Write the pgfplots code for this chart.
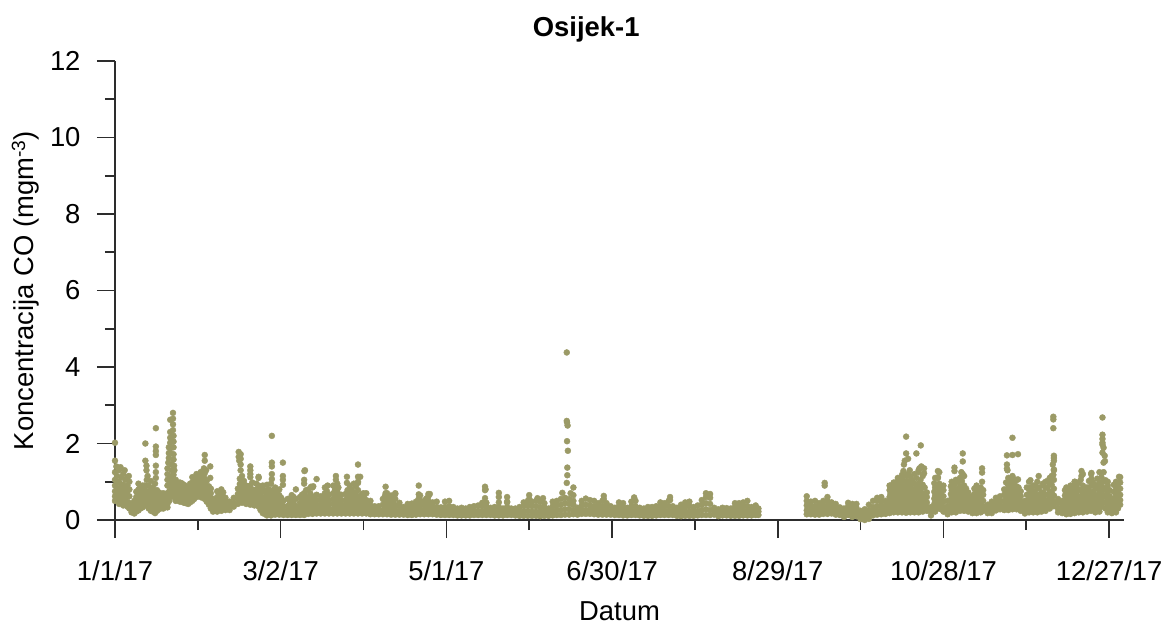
\documentclass[border=0pt]{standalone}
\usepackage{pgfplots}
\usepackage{pgfplotstable}
\usepackage{fontspec}
\setmainfont{Liberation Sans}
\pgfplotsset{compat=1.18}
\definecolor{pt}{RGB}{155,154,102}
\definecolor{ax}{RGB}{45,45,45}
\pgfplotstableread{
d v1 v2 v3 v4 v5 v6
0 .5 .62 .75 .9 1.05 1.25
1.5 .42 .55 .68 .82 1 1.3
3 .38 .5 .62 .78 .92 1.2
4.5 .35 .46 .6 .74 .9 1.12
6 .2 .3 .4 nan nan nan
7 .17 .28 .4 .5 nan nan
8.5 .25 .38 .52 .66 .8 .95
10 .33 .45 .58 .7 .82 .9
11.5 .38 .5 .62 .75 .9 1.05
13 .24 .36 .5 .64 .8 1.02
14.5 .18 .3 .45 .6 .75 .95
16 .28 .38 .5 .62 .72 nan
17.5 .3 .4 .52 .64 .7 nan
19 .33 .42 .53 .62 .7 nan
20.5 .7 .85 1 1.15 1.3 1.45
22 .5 .62 .75 .88 1 1.05
23.5 .48 .6 .72 .85 .98 nan
25 .45 .55 .68 .8 .92 nan
26.5 .42 .52 .62 .72 .85 nan
28 .5 .62 .74 .86 .98 1.12
29.5 .6 .72 .84 .96 1.08 1.2
31 .6 .72 .84 .96 1.1 1.25
32.5 .55 .68 .8 .95 1.08 1.22
34 .4 .5 .62 .75 .88 nan
35.5 .22 .32 .44 .55 nan nan
37 .22 .32 .45 .6 .75 nan
38.5 .24 .36 .5 .65 .8 nan
40 .26 .36 .48 .58 nan nan
41.5 .26 .36 .48 nan nan nan
43 .35 .45 .58 nan nan nan
44.5 .42 .55 .68 .82 nan nan
46 .45 .58 .72 .88 1.02 1.15
47.5 .42 .55 .68 .8 .9 nan
49 .4 .5 .62 .75 .9 1.12
50.5 .38 .48 .6 .7 nan nan
52 .35 .45 .58 .72 .9 1.1
53.5 .18 .32 .46 .6 .75 .9
55 .12 .24 .38 .52 .68 .92
56.5 .12 .24 .38 .52 .7 .95
58 .14 .26 .4 .55 .7 .85
59.5 .14 .26 .38 .5 .65 .8
61 .13 .24 .36 .5 nan nan
62.5 .13 .24 .36 .55 nan nan
64 .13 .24 .36 .5 .65 nan
65.5 .13 .24 .36 .55 .8 nan
67 .13 .22 .34 .45 .6 nan
68.5 .13 .24 .38 .52 .7 .95
70 .16 .26 .36 .45 .6 .8
71.5 .16 .26 .38 .5 .62 .85
73 .17 .28 .4 .52 .66 nan
74.5 .17 .28 .4 .52 .62 nan
76 .17 .28 .4 .55 .7 .85
77.5 .17 .28 .4 .52 .66 nan
79 .17 .28 .42 .55 .7 .9
80.5 .17 .3 .42 .56 .75 .95
82 .17 .28 .4 .52 .66 nan
83.5 .17 .28 .4 .52 .68 nan
85 .17 .28 .4 .55 .7 .9
86.5 .17 .28 .42 .56 .72 .95
88 .17 .3 .44 .6 .78 1
89.5 .17 .28 .4 .55 .68 nan
91 .17 .28 .4 .52 .7 nan
92.5 .15 .26 .38 .5 nan nan
94 .15 .25 .36 nan nan nan
95.5 .15 .25 .36 nan nan nan
97 .15 .25 .4 .55 nan nan
98.5 .15 .25 .4 .55 .7 nan
100 .14 .25 .38 .52 .64 nan
101.5 .14 .25 .38 .55 .68 nan
103 .14 .24 .36 .45 nan nan
104.5 .14 .24 .34 nan nan nan
106 .13 .22 .32 .42 nan nan
107.5 .13 .22 .34 .43 nan nan
109 .14 .24 .36 .48 nan nan
110.5 .15 .26 .38 .5 .64 nan
112 .15 .26 .38 .5 nan nan
113.5 .15 .26 .38 .5 .62 nan
115 .15 .25 .36 .46 nan nan
116.5 .14 .24 .34 .48 nan nan
118 .13 .23 .33 nan nan nan
119.5 .13 .23 .34 .48 nan nan
121 .13 .24 .36 .5 nan nan
122.5 .13 .23 .34 nan nan nan
124 .12 .22 .3 nan nan nan
125.5 .12 .22 .32 nan nan nan
127 .12 .21 .3 nan nan nan
128.5 .12 .22 .34 nan nan nan
130 .13 .24 .36 nan nan nan
131.5 .13 .24 .38 nan nan nan
133 .13 .23 .36 .45 nan nan
134.5 .13 .24 .35 .45 nan nan
136 .13 .22 .32 nan nan nan
137.5 .12 .22 .34 nan nan nan
139 .12 .22 .34 .46 nan nan
140.5 .12 .21 .3 nan nan nan
142 .13 .23 .34 .46 nan nan
143.5 .13 .22 .3 nan nan nan
145 .12 .2 .3 nan nan nan
146.5 .11 .22 .34 nan nan nan
148 .11 .22 .36 .46 nan nan
149.5 .11 .24 .38 .5 nan nan
151 .11 .22 .36 .48 nan nan
152.5 .11 .22 .36 .5 nan nan
154 .1 .22 .34 .48 nan nan
155.5 .11 .22 .34 .44 nan nan
157 .11 .22 .3 nan nan nan
158.5 .12 .24 .36 .48 nan nan
160 .13 .25 .38 .5 nan nan
161.5 .13 .26 .4 .55 nan nan
163 .14 .28 .44 .58 nan nan
164.5 .14 .28 .42 .55 nan nan
166 .15 .26 .4 .5 nan nan
167.5 .14 .24 .32 nan nan nan
169 .16 .26 .38 .5 nan nan
170.5 .16 .26 .4 .56 nan nan
172 .16 .26 .38 .52 nan nan
173.5 .15 .25 .36 .5 nan nan
175 .14 .24 .34 .44 nan nan
176.5 .14 .24 .36 .5 nan nan
178 .14 .24 .34 .44 nan nan
179.5 .14 .24 .36 nan nan nan
181 .13 .22 .32 nan nan nan
182.5 .13 .24 .36 .46 nan nan
184 .12 .24 .34 .44 nan nan
185.5 .12 .22 .32 nan nan nan
187 .13 .24 .36 .48 nan nan
188.5 .13 .24 .36 .5 nan nan
190 .12 .22 .32 nan nan nan
191.5 .11 .2 .3 nan nan nan
193 .11 .22 .34 nan nan nan
194.5 .11 .22 .34 nan nan nan
196 .12 .24 .36 nan nan nan
197.5 .13 .24 .36 .46 nan nan
199 .13 .24 .36 .44 nan nan
200.5 .13 .24 .36 .5 nan nan
202 .13 .24 .36 nan nan nan
203.5 .11 .22 .32 nan nan nan
205 .1 .22 .32 .4 nan nan
206.5 .11 .22 .34 .46 nan nan
208 .11 .22 .36 .48 nan nan
209.5 .11 .22 .34 nan nan nan
211 .12 .24 .38 nan nan nan
212.5 .13 .26 .4 .52 nan nan
214 .13 .28 .44 .6 nan nan
215.5 .13 .26 .42 .58 nan nan
217 .14 .24 .32 nan nan nan
218.5 .1 .2 .28 nan nan nan
220 .12 .22 .32 nan nan nan
221.5 .12 .22 .31 nan nan nan
223 .11 .2 .3 nan nan nan
224.5 .11 .22 .34 .44 nan nan
226 .11 .22 .34 .44 nan nan
227.5 .12 .24 .36 .46 nan nan
229 .12 .24 .36 .5 nan nan
230.5 .12 .22 .34 nan nan nan
232 .13 .22 .3 .38 nan nan
233 .13 .22 .3 nan nan nan
250.5 .15 .25 .38 .5 .62 nan
252 .15 .25 .36 .48 nan nan
253.5 .14 .25 .36 .5 nan nan
255 .14 .24 .34 .44 nan nan
256.5 .16 .26 .38 .5 nan nan
258 .16 .26 .38 .5 .6 nan
259.5 .17 .27 .38 .46 nan nan
261 .14 .24 .34 .42 nan nan
262.5 .13 .23 .33 nan nan nan
264 .08 .18 .3 nan nan nan
265.5 .13 .24 .36 .45 nan nan
267 .08 .18 .3 .42 nan nan
268.5 .1 .2 .32 .42 nan nan
270 .02 .12 .24 nan nan nan
271.5 0 .1 .2 .28 nan nan
273 .03 .14 .26 .4 nan nan
274.5 .12 .22 .34 .5 nan nan
276 .14 .24 .36 .5 .58 nan
277.5 .15 .25 .36 .48 .6 nan
279 .16 .26 .38 .5 nan nan
280.5 .18 .3 .44 .6 .78 .9
282 .2 .32 .46 .6 .78 .98
283.5 .2 .34 .5 .68 .88 1.1
285 .2 .34 .5 .68 .9 1.12
286.5 .19 .34 .5 .68 .9 1.15
288 .2 .36 .52 .7 .92 1.15
289.5 .2 .36 .52 .72 .95 1.2
291 .2 .36 .52 .72 .95 1.3
292.5 .22 .36 .52 .7 .92 1.15
294 .24 .34 .46 .6 .72 nan
295.5 .12 .22 .34 nan nan nan
297 .22 .34 .48 .64 .85 1.1
298.5 .3 .42 .56 .72 .95 1.25
300 .22 .34 .48 .62 .78 .9
301.5 .15 .25 .36 .5 nan nan
303 .2 .32 .46 .6 .78 1
304.5 .2 .34 .48 .64 .8 1.05
306 .24 .36 .5 .68 .88 1.1
307.5 .24 .36 .52 .7 .9 1.15
309 .22 .34 .46 .6 .72 nan
310.5 .18 .28 .4 .54 .62 nan
312 .18 .3 .44 .6 .75 .9
313.5 .2 .32 .44 .58 .76 .85
316 .18 .28 .4 nan nan nan
317.5 .18 .28 .38 .48 nan nan
319 .25 .34 .46 .58 nan nan
320.5 .28 .38 .5 .62 nan nan
322 .26 .38 .5 .66 .8 nan
323.5 .26 .38 .52 .7 .9 1.1
325 .28 .4 .55 .72 .9 1.12
326.5 .28 .4 .55 .72 .88 1.05
328 .24 .36 .48 .62 .75 nan
329.5 .17 .28 .4 .5 nan nan
331 .2 .32 .46 .62 .8 1
332.5 .2 .32 .44 .6 .75 .9
334 .2 .32 .46 .62 .82 1
335.5 .22 .34 .46 .6 .72 nan
337 .24 .36 .5 .66 .85 1
338.5 .3 .42 .58 .74 .95 1.1
340 .36 .48 .64 .82 1.05 1.3
341.5 .2 .3 .44 .55 nan nan
343 .18 .28 .4 .5 nan nan
344.5 .15 .26 .4 .56 .72 .85
346 .16 .28 .42 .58 .74 .9
347.5 .18 .3 .44 .6 .78 1
349 .2 .32 .46 .62 .8 .98
350.5 .2 .34 .5 .68 .9 1.2
352 .22 .34 .46 .6 .72 .85
353.5 .24 .36 .5 .68 .9 1.2
355 .2 .34 .48 .66 .82 .9
356.5 .22 .36 .54 .74 .98 1.25
358 .44 .6 .78 1 1.25 1.5
359.5 .2 .36 .54 .72 .9 1.0
361 .18 .3 .42 .55 nan nan
362.5 .2 .34 .5 .66 .84 1
364 .4 .52 .66 .82 .98 1.12
}\base
\pgfplotstableread{
d w1 w2 w3 w4 w5
.7 .56 .68 .82 .97 1.15
2.2 .48 .6 .75 .92 1.12
3.7 .44 .56 .7 .85 1.05
5.2 .3 .45 .62 .8 1
7.7 .22 .34 .46 .6 .74
9.2 .3 .44 .58 .72 .86
10.7 .38 .52 .66 .78 .9
12.2 .3 .44 .58 .72 .9
13.7 .22 .36 .52 .68 .85
15.2 .24 .36 .5 .64 .78
16.7 .32 .44 .56 .66 nan
18.2 .34 .46 .58 .68 nan
19.7 .5 .62 .76 .92 1.08
21.2 .6 .74 .88 1.02 1.18
22.7 .52 .66 .8 .92 nan
24.2 .48 .6 .74 .86 .96
25.7 .44 .56 .68 .8 .88
27.2 .46 .58 .7 .82 .95
28.7 .55 .68 .8 .92 1.05
30.2 .64 .78 .9 1.02 1.14
31.7 .58 .72 .86 1 1.16
33.2 .48 .6 .74 .88 1.02
34.7 .3 .44 .58 .7 .82
36.2 .26 .38 .5 nan nan
37.7 .28 .4 .54 .68 nan
39.2 .3 .44 .58 .72 nan
45.2 .5 .64 .78 .94 1.08
46.7 .48 .62 .76 .9 1.02
48.2 .46 .58 .7 .84 nan
49.7 .44 .56 .68 .8 .98
51.2 .4 .52 .66 .8 .95
52.7 .26 .4 .54 .68 .85
54.2 .16 .3 .44 .58 .78
55.7 .18 .32 .46 .6 .8
57.2 .18 .32 .46 .62 .78
58.7 .2 .34 .46 .6 .72
60.2 .18 .3 .44 .58 nan
63.2 .18 .3 .42 .56 nan
64.7 .18 .3 .44 .6 nan
67.7 .17 .28 .42 .54 .66
69.2 .2 .32 .46 .6 .78
70.7 .2 .32 .42 .54 .7
72.2 .22 .34 .46 .58 nan
75.2 .22 .34 .46 .6 nan
76.7 .22 .34 .47 .62 .76
79.7 .22 .36 .48 .62 .8
80.9 .24 .36 .5 .65 .85
84.2 .22 .34 .47 .6 .78
85.7 .22 .34 .48 .62 .8
87.2 .24 .36 .5 .68 .88
88.7 .24 .36 .48 .62 nan
90.2 .22 .34 .46 .6 nan
97.7 .2 .32 .47 .62 nan
99.2 .2 .32 .45 .58 nan
100.7 .2 .32 .46 .6 nan
110 .2 .32 .44 .56 nan
112.7 .2 .32 .44 .56 nan
280.8 .24 .36 .52 .68 .84
281.7 .26 .4 .54 .68 .88
282.7 .26 .42 .58 .78 .98
284.2 .26 .42 .6 .78 1
285.7 .26 .42 .58 .78 1.02
287.2 .28 .44 .6 .8 1.02
288.7 .28 .44 .62 .82 1.05
290.2 .28 .44 .62 .84 1.1
291.7 .28 .44 .62 .82 1.05
293.2 .3 .4 .54 .66 .85
296.7 .28 .42 .56 .74 .96
298 .36 .5 .64 .84 1.1
299.2 .28 .42 .54 .7 .85
302.7 .26 .38 .52 .68 .88
304 .26 .4 .56 .72 .92
305.2 .3 .44 .6 .78 1
306.7 .3 .44 .6 .8 1.02
308.2 .28 .4 .54 .66 .82
309.7 .24 .34 .46 .58 nan
311.2 .24 .36 .52 .68 .82
312.7 .26 .38 .5 .68 .8
314.4 .24 .36 .5 .66 .78
322.7 .32 .44 .58 .78 .98
324.2 .32 .46 .62 .8 1
325.7 .34 .48 .64 .8 1
327.2 .3 .42 .56 .7 .85
330.2 .22 .36 .5 .66 .85
331.7 .26 .38 .54 .7 .85
333.2 .26 .38 .52 .7 .9
334.7 .26 .4 .54 .66 .85
336.2 .3 .42 .56 .72 .9
337.7 .36 .5 .66 .84 1.02
339.2 .42 .56 .72 .92 1.15
344 .2 .34 .48 .64 .78
345.2 .22 .34 .5 .66 .82
346.7 .24 .36 .52 .68 .88
348.2 .26 .38 .54 .72 .9
349.7 .26 .42 .58 .78 1.05
351.2 .28 .4 .54 .66 .8
352.7 .3 .42 .58 .78 1.02
354.2 .28 .42 .58 .74 .98
355.7 .28 .44 .62 .84 1.08
357.2 .34 .48 .66 .88 1.12
358.7 .3 .46 .64 .84 1.04
360.2 .24 .36 .48 .62 .78
361.7 .26 .4 .56 .74 .92
363.2 .3 .44 .6 .76 .92
}\extra
\begin{document}
\begin{tikzpicture}
\path[use as bounding box] (-115bp,-106bp) rectangle (1058bp,520bp);
\begin{axis}[
  at={(0,0)},anchor=south west,
  scale only axis,width=1009bp,height=459bp,
  xmin=0,xmax=365.4,ymin=0,ymax=12,
  axis x line*=bottom,axis y line*=left,
  axis line style={ax,line width=1.6bp,-},
  tick style={ax,line width=1.6bp},
  tick align=outside,
  major tick length=18bp,minor tick length=10bp,
  xtick={0,60,120,180,240,300,360},
  xticklabels={1/1/17,3/2/17,5/1/17,6/30/17,8/29/17,10/28/17,12/27/17},
  minor xtick={30,90,150,210,270,330},
  ytick={0,2,4,6,8,10,12},
  minor ytick={1,3,5,7,9,11},
  xticklabel style={font=\fontsize{27.5}{31}\selectfont,yshift=-19bp},
  yticklabel style={font=\fontsize{27.5}{31}\selectfont,xshift=-13bp},
  /pgf/number format/assume math mode=true,
  title={\bfseries Osijek-1},
  title style={at={(0.467,1)},anchor=base,yshift=19bp,font=\fontsize{27.5}{31}\selectfont},
  xlabel={Datum},
  xlabel style={at={(0.5,0)},anchor=base,yshift=-100bp,font=\fontsize{27.5}{31}\selectfont},
  ylabel={Koncentracija CO (mgm\textsuperscript{-3})},
  ylabel style={at={(0,0.5)},anchor=base,yshift=81bp,font=\fontsize{27.5}{31}\selectfont},
  clip=false,
]
\pgfplotsinvokeforeach{1,...,6}{
  \addplot[only marks,mark=*,mark size=3bp,color=pt,mark options={draw=none,fill=pt}] table[x index=0,y index=#1]{\base};
}
\pgfplotsinvokeforeach{1,...,5}{
  \addplot[only marks,mark=*,mark size=3bp,color=pt,mark options={draw=none,fill=pt}] table[x index=0,y index=#1]{\extra};
}
\addplot[only marks,mark=*,mark size=3bp,color=pt,mark options={draw=none,fill=pt}] coordinates {
(0,2.02)(0,1.55)(.5,1.4)(2,1.38)(3.5,1.3)(5,1.15)
(11,2)(11,1.55)(11.4,1.42)(11.4,1.3)(11.8,1.15)
(14.8,2.4)(14.8,1.92)(14.8,1.8)(14.8,1.7)(14.8,1.42)(14.8,1.25)(14.8,1.1)
(19,1.05)(19,.9)(19,1.2)(19,1.35)(19.3,1.5)(19.5,1.62)(19.5,1.75)(19.5,1.9)
(20,2.62)(20,2.3)(20,2.15)(20,2.02)(20,1.88)(20,1.76)
(21,2.8)(21,2.65)(21,2.5)(21,2.35)(21.2,2.2)(21.2,2.05)(21.2,1.9)(21.2,1.72)(21.2,1.58)(21.4,1.42)(21.5,1.3)
(32.2,1.35)(32.5,1.55)(32.5,1.7)(33,1.3)(34.5,1.4)(34.5,1.1)
(44.8,1.78)(44.8,1.65)(45,1.55)(45.5,1.72)(45.5,1.6)(45.5,1.45)(45.5,1.3)
(49,1.4)(49,1.3)(49,1.2)(52,1.13)
(56.8,2.2)(56.8,1.5)(56.8,1.4)(56.8,1.2)(56.8,1.07)(60.8,1.5)(60.8,1.15)(60.8,1.05)(60.8,.92)
(68.8,1.3)(68.6,1.28)(68.5,1.05)(71,.87)(71.8,.88)(73,1.07)
(77,.9)(80,1.15)(80,1.05)(84,1.13)(84,.97)(84,.7)(88,1.45)(88,1.13)(88.8,1.13)(88,.97)(90,.7)
(98,.87)(98,.7)(101.5,.7)(110,.9)(110,.67)(113.5,.68)
(114,.68)(134,.87)(134,.78)(134.2,.8)(134,.57)(139,.71)(139,.6)(142,.6)(142,.48)(150,.65)(150,.55)(153,.57)(155,.57)
(162,.71)(163.6,4.38)(163.6,2.59)(163.7,2.55)(163.9,2.47)(163.7,2.06)(164,1.81)(163.8,1.37)(163.8,1.17)(163.6,.97)(166,.85)(166,.65)(165,.7)
(177,.63)(177,.55)(188,.59)(201,.6)(201,.52)(214,.7)(215.5,.68)
(257,.97)(257,.9)
(281,.9)(285,1.18)(285.5,1.28)(285.7,1.45)(286,1.55)(286.5,2.18)(286.5,1.74)(287.2,1.6)(287.8,1.3)(287,1.2)
(290.2,1.74)(291.3,1.35)(291,1.25)(291.8,1.95)(292,1.4)(293,1.35)(293,1.22)
(298,1.28)(298,1.12)
(304,1.37)(304,1.28)(307,1.74)(307,1.53)(307,1.2)(306.5,1.25)(314,1.35)(314,1.24)(314,1)
(323,1.69)(323,1.45)(323,1.34)(323.2,1.3)(325,2.15)(325,1.7)(325,1.15)(327,1.72)(327,1.06)
(331.5,1.04)(334.5,1.15)(336,.95)(338.5,1.06)
(339.8,2.7)(339.8,2.63)(339.8,2.4)(340,1.68)(340,1.62)(340,1.55)(339.6,1.45)(340,1.32)(339.8,1.18)
(350,1.28)(350,1.15)(353.6,1.23)(353.6,1.08)(355.5,.89)(347.6,1)
(357.6,2.68)(357.6,2.23)(357.6,2.12)(357.6,2.02)(357.6,1.97)(358,1.89)(357.6,1.76)(358.4,1.68)(358.5,1.54)
(363.6,1.13)(363.6,.98)
};
\end{axis}
\end{tikzpicture}
\end{document}
